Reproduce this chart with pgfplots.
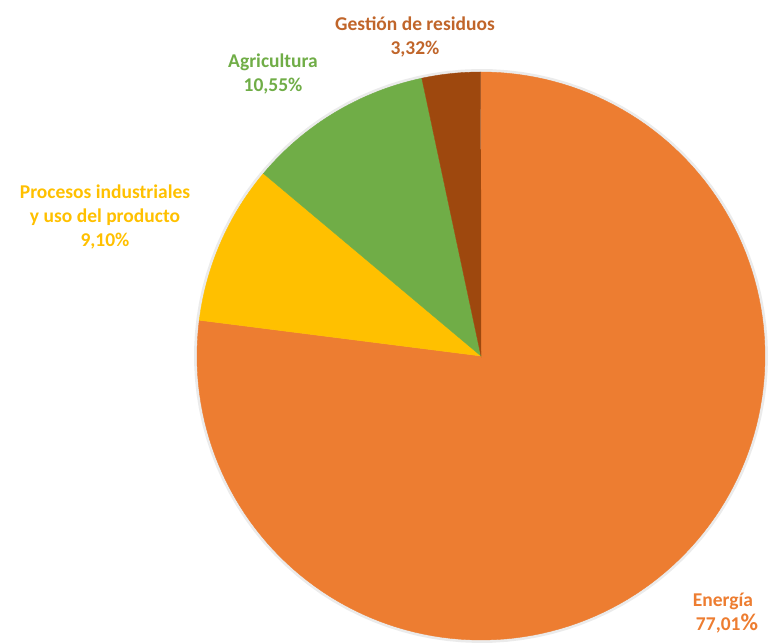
\documentclass[border=0pt]{standalone}
\usepackage{pgfplots}
\usepackage{pgfplotstable}
\pgfplotsset{compat=1.18}
\usepackage{fontspec}
\setmainfont{Carlito}
\definecolor{cEn}{HTML}{ED7D31}
\definecolor{cPr}{HTML}{FFC000}
\definecolor{cAg}{HTML}{70AD47}
\definecolor{cGe}{HTML}{9E480E}
\definecolor{tGe}{HTML}{C0652A}

\pgfplotstableread{
name value
Energia 77.01
Procesos 9.10
Agricultura 10.55
Gestion 3.32
}\piedata

\begin{document}%
\begin{tikzpicture}
\pgfplotstablegetelem{0}{value}\of\piedata \let\vA\pgfplotsretval
\pgfplotstablegetelem{1}{value}\of\piedata \let\vB\pgfplotsretval
\pgfplotstablegetelem{2}{value}\of\piedata \let\vC\pgfplotsretval
\pgfplotstablegetelem{3}{value}\of\piedata \let\vD\pgfplotsretval
\pgfmathsetmacro\aO{90}
\pgfmathsetmacro\aA{\aO-3.6*\vA}
\pgfmathsetmacro\aB{\aA-3.6*\vB}
\pgfmathsetmacro\aC{\aB-3.6*\vC}
\pgfmathsetmacro\aD{\aC-3.6*\vD}
\def\cx{481}\def\cy{288}\def\r{284}
\begin{axis}[name=ax,
  width=774pt, height=644pt, scale only axis,
  xmin=0, xmax=774, ymin=0, ymax=644,
  hide axis, clip=false,
  font=\bfseries\fontsize{19.5}{24}\selectfont,
]
% faint shadow
\addplot[draw=black!8, line width=4pt, domain=0:360, samples=120] ({\cx+(\r+1)*cos(x)},{\cy+(\r+1)*sin(x)});
\addplot[fill=cEn, draw=cEn, domain=\aA:\aO, samples=150] ({\cx+\r*cos(x)},{\cy+\r*sin(x)}) -- (axis cs:\cx,\cy) -- cycle;
\addplot[fill=cPr, draw=cPr, domain=\aB:\aA, samples=30] ({\cx+\r*cos(x)},{\cy+\r*sin(x)}) -- (axis cs:\cx,\cy) -- cycle;
\addplot[fill=cAg, draw=cAg, domain=\aC:\aB, samples=30] ({\cx+\r*cos(x)},{\cy+\r*sin(x)}) -- (axis cs:\cx,\cy) -- cycle;
\addplot[fill=cGe, draw=cGe, domain=\aD:\aC, samples=15] ({\cx+\r*cos(x)},{\cy+\r*sin(x)}) -- (axis cs:\cx,\cy) -- cycle;

\node[text=tGe, align=center] at (axis cs:415,607) {Gestión de residuos\\3,32\%};
\node[text=cAg, align=center] at (axis cs:273,570) {Agricultura\\10,55\%};
\node[text=cPr, align=center] at (axis cs:105,427) {Procesos industriales\\y uso del producto\\9,10\%};
\node[text=cEn, align=center] at (axis cs:723,31) {Energía\\\hspace*{8pt}77,01{\fontsize{24}{24}\selectfont\%}};
\end{axis}
\pgfresetboundingbox
\path (ax.south west) rectangle (ax.north east);
\end{tikzpicture}%
\end{document}
